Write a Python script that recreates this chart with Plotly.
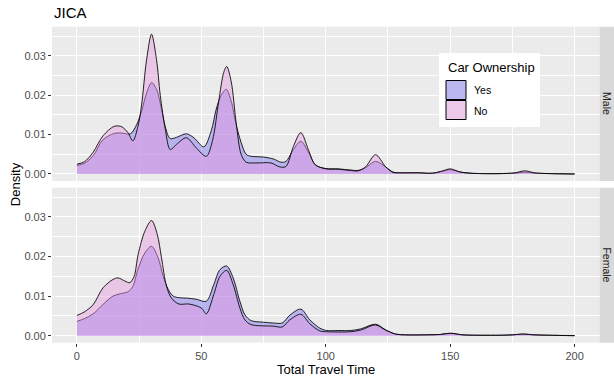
import plotly.graph_objects as go

# ---- density estimates of total travel time, by gender and car ownership ----
male_yes_x = [0, 3, 6.5, 10.5, 15, 18, 21.5, 24, 26, 28, 30, 32, 34, 35.5, 37.5, 40, 44, 47, 51, 54,
              56, 58, 60, 62, 64, 66, 68, 70, 75, 79, 82, 84, 87, 90, 93, 96, 100, 105, 110, 113,
              116, 120, 124, 127, 130, 137, 143, 147, 150, 154, 158, 163, 170, 176, 180, 184, 190, 200]
male_yes_y = [0.0022, 0.0027, 0.0046, 0.0087, 0.0103, 0.0104, 0.0102, 0.0125, 0.0160, 0.0205,
              0.0232, 0.0215, 0.0165, 0.0120, 0.0090, 0.0093, 0.0102, 0.0092, 0.0069, 0.0110,
              0.0165, 0.0200, 0.0215, 0.0185, 0.0125, 0.0080, 0.0050, 0.0045, 0.0043, 0.0038,
              0.0030, 0.0032, 0.0062, 0.0083, 0.0056, 0.0022, 0.0014, 0.0013, 0.0010, 0.0009,
              0.0016, 0.0032, 0.0018, 0.0005, 0.0003, 0.0003, 0.0002, 0.0007, 0.0011, 0.0005,
              0.0002, 0.0001, 0.0001, 0.0002, 0.0005, 0.0002, 0.0001, 0.0000]

male_no_x = [0, 3, 6.5, 10.5, 15, 18, 20.5, 22.5, 24.5, 26, 28, 30, 32, 33.5, 35.5, 37.5, 40, 44,
             48, 52, 54.5, 57, 59, 60.2, 62, 64, 66, 68, 72, 78, 81.5, 84, 87, 90, 93, 95.7, 100,
             105, 110, 113, 116, 120, 124, 127, 130, 137, 143, 147, 150, 154, 158, 163, 170, 176,
             180, 184, 190, 200]
male_no_y = [0.0025, 0.0031, 0.0055, 0.0097, 0.0121, 0.0120, 0.0105, 0.0084, 0.0120, 0.0175,
             0.0290, 0.0355, 0.0290, 0.0200, 0.0115, 0.0062, 0.0075, 0.0092, 0.0066, 0.0045,
             0.0085, 0.0185, 0.0258, 0.0273, 0.0235, 0.0130, 0.0050, 0.0030, 0.0028, 0.0028,
             0.0018, 0.0019, 0.0070, 0.0105, 0.0062, 0.0024, 0.0013, 0.0012, 0.0009, 0.0008,
             0.0018, 0.0049, 0.0019, 0.0004, 0.0003, 0.0003, 0.0002, 0.0008, 0.0013, 0.0005,
             0.0002, 0.0001, 0.0001, 0.0003, 0.0008, 0.0003, 0.0001, 0.0000]

female_yes_x = [0, 3, 6.5, 10.5, 14.5, 17.5, 20.5, 22.5, 24.5, 27.3, 30, 32.5, 34.7, 36.7, 38.7,
                41, 44, 48, 52, 55, 57.5, 60.2, 62.8, 65.5, 67.5, 70, 75, 79, 82.5, 85.6, 90,
                93.6, 97.6, 100.3, 105, 110, 114, 120, 124, 128, 132, 140, 146, 150, 155, 162,
                170, 175, 179, 184, 190, 200]
female_yes_y = [0.0036, 0.0043, 0.0055, 0.0079, 0.0100, 0.0106, 0.0111, 0.0125, 0.0167, 0.0209,
                0.0226, 0.0199, 0.0150, 0.0117, 0.0100, 0.0096, 0.0095, 0.0092, 0.0087, 0.0129,
                0.0167, 0.0176, 0.0146, 0.0087, 0.0053, 0.0038, 0.0034, 0.0032, 0.0032, 0.0052,
                0.0067, 0.0040, 0.0019, 0.0013, 0.0013, 0.0013, 0.0017, 0.0029, 0.0015, 0.0004,
                0.0002, 0.0002, 0.0003, 0.0006, 0.0002, 0.0001, 0.0001, 0.0002, 0.0004, 0.0002,
                0.0001, 0.0000]

female_no_x = [0, 3, 6.5, 10.5, 14.5, 16.5, 19.3, 21.3, 23, 24.6, 27.3, 30, 32.3, 34, 36, 38, 41,
               45, 50, 52, 55, 57.5, 60.2, 62.8, 65.5, 67.5, 70, 79, 82.5, 85.6, 90, 93.6, 97.6,
               100.3, 110, 114, 120, 124, 128, 132, 140, 146, 150, 155, 162, 170, 175, 179, 184,
               190, 200]
female_no_y = [0.0051, 0.0060, 0.0078, 0.0121, 0.0142, 0.0146, 0.0138, 0.0134, 0.0150, 0.0205,
               0.0264, 0.0291, 0.0256, 0.0197, 0.0125, 0.0095, 0.0080, 0.0080, 0.0070, 0.0055,
               0.0104, 0.0150, 0.0165, 0.0129, 0.0070, 0.0040, 0.0028, 0.0024, 0.0022, 0.0040,
               0.0054, 0.0030, 0.0012, 0.0010, 0.0010, 0.0014, 0.0027, 0.0014, 0.0004, 0.0002,
               0.0002, 0.0003, 0.0006, 0.0002, 0.0001, 0.0001, 0.0002, 0.0004, 0.0002, 0.0001,
               0.0000]

groups = ["Yes", "No"]
panels = ["Male", "Female"]
x_ticks = [0, 50, 100, 150, 200]
y_ticks = [0.00, 0.01, 0.02, 0.03]

FILL = {"Yes": "rgba(120,110,240,0.45)", "No": "rgba(230,150,225,0.45)"}
LINE = "rgba(0,0,0,0.85)"
FONT = "Liberation Sans, Arial, sans-serif"

W, H = 614, 379
# panel geometry in pixels
PL, PR = 52, 599.5
TOP_P = (26.7, 181.0)
BOT_P = (187.7, 342.7)


def px(x):
    return x / W


def py(y):
    return 1 - y / H


series = {
    ("Male", "Yes"): (male_yes_x, male_yes_y),
    ("Male", "No"): (male_no_x, male_no_y),
    ("Female", "Yes"): (female_yes_x, female_yes_y),
    ("Female", "No"): (female_no_x, female_no_y),
}

fig = go.Figure()
for i, panel in enumerate(panels):
    xa = "x" if i == 0 else "x2"
    ya = "y" if i == 0 else "y2"
    for g in groups:
        xs, ys = series[(panel, g)]
        fig.add_trace(go.Scatter(
            x=xs, y=ys, xaxis=xa, yaxis=ya, mode="lines",
            line=dict(color=LINE, width=1, shape="spline", smoothing=0.9),
            fill="tozeroy", fillcolor=FILL[g], name=g, showlegend=False,
            hoverinfo="skip",
        ))

grid = dict(showgrid=True, gridcolor="white", gridwidth=1.1, zeroline=False,
            showline=False)
minor_x = dict(dtick=25, tick0=25, showgrid=True, gridcolor="white", gridwidth=0.5, ticks="")
minor_y = dict(dtick=0.01, tick0=0.005, showgrid=True, gridcolor="white", gridwidth=0.5, ticks="")
tickfont = dict(family=FONT, size=11, color="#4D4D4D")

xdom = [px(PL), px(PR)]
fig.update_layout(
    width=W, height=H, margin=dict(l=0, r=0, t=0, b=0),
    paper_bgcolor="white", plot_bgcolor="#EBEBEB", showlegend=False,
    xaxis=dict(domain=xdom, anchor="y", range=[-10, 210], tickvals=x_ticks,
               showticklabels=False, ticks="", minor=minor_x, **grid),
    yaxis=dict(domain=[py(TOP_P[1]), py(TOP_P[0])], anchor="x", range=[-0.00178, 0.0374],
               tickvals=y_ticks, tickformat=".2f", ticks="outside", ticklen=3,
               tickcolor="#333333", tickwidth=1, tickfont=tickfont, minor=minor_y, **grid),
    xaxis2=dict(domain=xdom, anchor="y2", range=[-10, 210], tickvals=x_ticks,
                ticks="outside", ticklen=3, tickcolor="#333333", tickwidth=1,
                tickfont=tickfont, minor=minor_x, **grid),
    yaxis2=dict(domain=[py(BOT_P[1]), py(BOT_P[0])], anchor="x2", range=[-0.00178, 0.0374],
                tickvals=y_ticks, tickformat=".2f", ticks="outside", ticklen=3,
                tickcolor="#333333", tickwidth=1, tickfont=tickfont, minor=minor_y, **grid),
)

shapes = []
annotations = []

# facet strips on the right
for panel, (t, b) in zip(panels, [TOP_P, BOT_P]):
    shapes.append(dict(type="rect", xref="paper", yref="paper", x0=px(PR), x1=1.0,
                       y0=py(b), y1=py(t), fillcolor="#D9D9D9", line=dict(width=0), layer="below"))
    annotations.append(dict(text=panel, xref="paper", yref="paper", x=px((PR + W) / 2),
                            y=py((t + b) / 2), showarrow=False, textangle=90,
                            font=dict(family=FONT, size=10.5, color="#1A1A1A"),
                            xanchor="center", yanchor="middle"))

# titles
annotations.append(dict(text="JICA", xref="paper", yref="paper", x=px(51.5), y=py(12.5),
                        xanchor="left", yanchor="middle", showarrow=False,
                        font=dict(family=FONT, size=15, color="black")))
annotations.append(dict(text="Density", xref="paper", yref="paper", x=px(15.5),
                        y=py((TOP_P[0] + BOT_P[1]) / 2), textangle=-90, showarrow=False,
                        xanchor="center", yanchor="middle",
                        font=dict(family=FONT, size=13, color="black")))
annotations.append(dict(text="Total Travel Time", xref="paper", yref="paper",
                        x=px((PL + PR) / 2), y=py(369), showarrow=False,
                        xanchor="center", yanchor="middle",
                        font=dict(family=FONT, size=13, color="black")))

# legend box
LX0, LY0, LX1, LY1 = 439, 53, 540, 127
shapes.append(dict(type="rect", xref="paper", yref="paper", x0=px(LX0), x1=px(LX1),
                   y0=py(LY1), y1=py(LY0), fillcolor="white", line=dict(width=0)))
annotations.append(dict(text="Car Ownership", xref="paper", yref="paper", x=px(445.5),
                        y=py(67.5), xanchor="left", yanchor="middle", showarrow=False,
                        font=dict(family=FONT, size=13, color="black")))
key_tops = [80.5, 100.5]
for g, kt in zip(groups, key_tops):
    shapes.append(dict(type="rect", xref="paper", yref="paper", x0=px(446), x1=px(466),
                       y0=py(kt + 19), y1=py(kt), fillcolor="#F2F2F2", line=dict(width=0)))
    shapes.append(dict(type="rect", xref="paper", yref="paper", x0=px(446), x1=px(466),
                       y0=py(kt + 19), y1=py(kt), fillcolor=FILL[g],
                       line=dict(color="black", width=1)))
    annotations.append(dict(text=g, xref="paper", yref="paper", x=px(472), y=py(kt + 10),
                            xanchor="left", yanchor="middle", showarrow=False,
                            font=dict(family=FONT, size=10.5, color="black")))

fig.update_layout(shapes=shapes, annotations=annotations)
fig.write_html("out.html")
